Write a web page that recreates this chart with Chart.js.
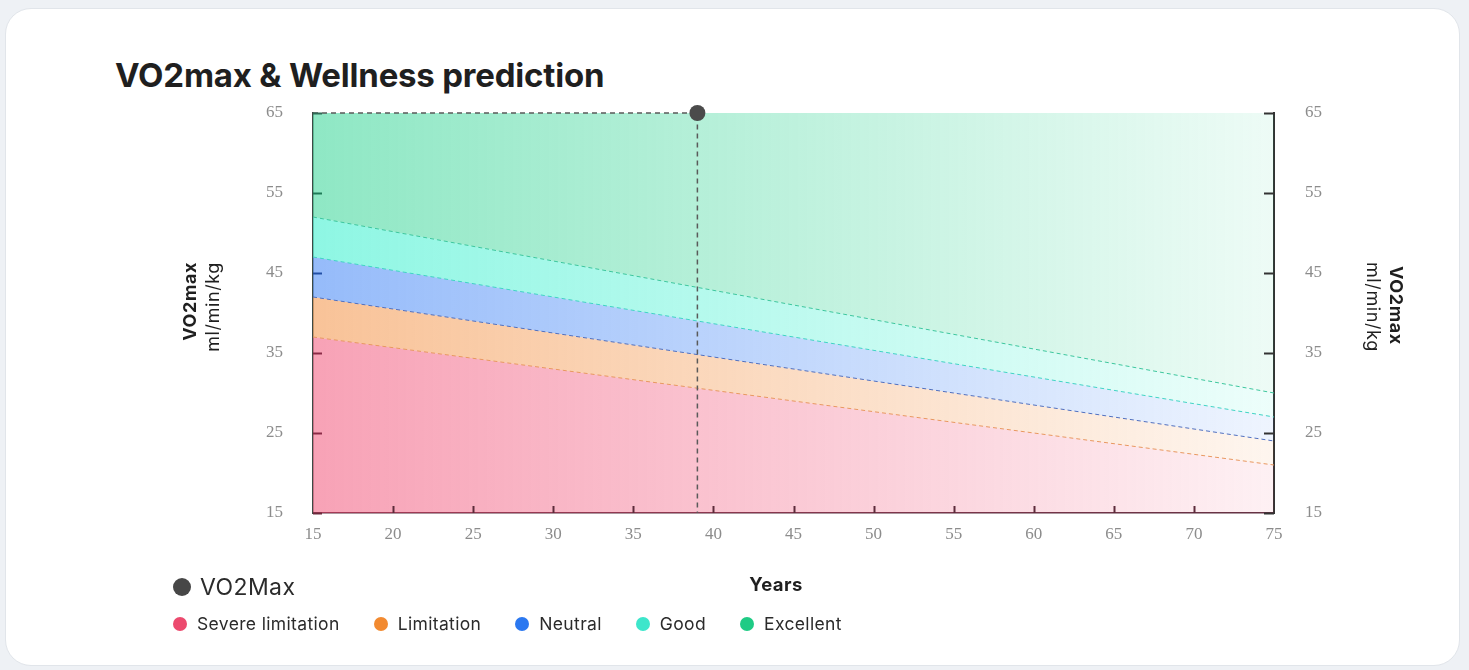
<!DOCTYPE html>
<html>
<head>
<meta charset="utf-8">
<title>VO2max &amp; Wellness prediction</title>
<script src="https://cdn.jsdelivr.net/npm/chart.js@4.4.1/dist/chart.umd.min.js"></script>
<style>
  html, body { margin: 0; padding: 0; background: #eef1f5; }
  body { width: 1469px; height: 670px; position: relative; overflow: hidden; font-family: Inter, "Noto Sans", sans-serif; }
  .card { position: absolute; left: 5px; top: 8px; width: 1453px; height: 656px; background: #fff;
          border: 1px solid #e1e5ea; border-radius: 26px; }
  h1 { position: absolute; left: 115px; top: 59px; margin: 0; font: 700 33px/33px Inter, sans-serif;
       color: #1f1f1f; letter-spacing: -0.2px; white-space: nowrap; }
  #wrap { position: absolute; left: 0; top: 0; width: 1469px; height: 670px; }
  .legend-row { position: absolute; display: flex; align-items: center; color: #2b2b2b; white-space: nowrap; }
  .legend-row.main { left: 173px; top: 574px; height: 26px; font: 400 23px/26px Inter, sans-serif; letter-spacing: 0.4px; }
  .legend-row.bands { left: 173px; top: 613px; height: 22px; font: 400 17.5px/22px Inter, sans-serif; letter-spacing: 0.35px; }
  .dot { display: inline-block; border-radius: 50%; }
  .main .dot { width: 18px; height: 18px; margin-right: 9px; }
  .bands .dot { width: 14px; height: 14px; margin-right: 10px; }
  .bands .item { display: flex; align-items: center; margin-right: 34px; }
</style>
</head>
<body>
<div class="card"></div>
<h1>VO2max &amp; Wellness prediction</h1>
<div id="wrap"><canvas id="chart"></canvas></div>
<div class="legend-row main" id="legendMain"></div>
<div class="legend-row bands" id="legendBands"></div>
<script>
// Age axis and band boundaries (ml/min/kg) at ages 15 and 75
const ages            = [15, 75];
const severeUpper     = [37, 21];
const limitationUpper = [42, 24];
const neutralUpper    = [47, 27];
const goodUpper       = [52, 30];
const excellentUpper  = [65, 65];

// Current measurement
const userAge   = 39;
const userVO2   = 65;
const vo2Label  = 'VO2Max';

// Axis ticks
const yTicks = [15, 25, 35, 45, 55, 65];
const xTicks = [15, 20, 25, 30, 35, 40, 45, 50, 55, 60, 65, 70, 75];

// Band names and colours
const bandNames  = ['Severe limitation', 'Limitation', 'Neutral', 'Good', 'Excellent'];
const bandDots   = ['#ec4a6e', '#f28a30', '#2b78f0', '#3de6cb', '#1fcb85'];
const bandRGB    = ['240,70,110', '242,135,50', '45,120,245', '30,238,200', '31,208,138'];
const bandEdges  = ['#e8975f', '#4f6fbf', '#3fd3c4', '#3cc69d', null];

const Y_MIN = 15, Y_MAX = 65, X_MIN = 15, X_MAX = 75;

function pts(values) {
  return ages.map((a, i) => ({ x: a, y: values[i] }));
}

function bandFill(rgb) {
  return (ctx) => {
    const chart = ctx.chart;
    const area = chart.chartArea;
    if (!area) return 'rgba(' + rgb + ',0.3)';
    const g = chart.ctx.createLinearGradient(area.left, 0, area.right, 0);
    g.addColorStop(0, 'rgba(' + rgb + ',0.5)');
    g.addColorStop(1, 'rgba(' + rgb + ',0.08)');
    return g;
  };
}

const bandData = [severeUpper, limitationUpper, neutralUpper, goodUpper, excellentUpper];

const datasets = [
  {
    label: vo2Label,
    data: [{ x: X_MIN, y: userVO2 }, { x: userAge, y: userVO2 }, { x: userAge, y: Y_MIN }],
    borderColor: '#5a5a5a',
    borderWidth: 1.5,
    borderDash: [5, 4],
    fill: false,
    clip: false,
    pointRadius: (c) => (c.dataIndex === 1 ? 8 : 0),
    pointBackgroundColor: '#4b4b4b',
    pointBorderWidth: 0,
    order: 0
  }
];

bandData.forEach((vals, i) => {
  datasets.push({
    label: bandNames[i],
    data: pts(vals),
    borderColor: bandEdges[i] || 'rgba(0,0,0,0)',
    borderWidth: bandEdges[i] ? 1 : 0,
    borderDash: [4, 3],
    backgroundColor: bandFill(bandRGB[i]),
    fill: i === 0 ? 'start' : '-1',
    pointRadius: 0,
    order: 1
  });
});

const leftTickColors = { 65: '#2f6b55', 55: '#1f7a57', 45: '#224fa5', 35: '#8b2a46', 25: '#8b2a46', 15: '#6b2a3c' };

function vText(ctx, text, x, y, angle, align, font) {
  ctx.save();
  ctx.translate(x, y);
  ctx.rotate(angle);
  ctx.textAlign = align;
  ctx.font = font;
  ctx.fillText(text, 0, 0);
  ctx.restore();
}

const decor = {
  id: 'decor',
  afterDraw(chart) {
    const { ctx, chartArea: a, scales } = chart;
    const y = scales.y, x = scales.x;
    ctx.save();
    ctx.lineWidth = 2;
    // inward ticks on both value axes
    y.ticks.forEach((t) => {
      const py = Math.round(y.getPixelForValue(t.value)) + 0.5;
      ctx.strokeStyle = leftTickColors[t.value] || '#444';
      ctx.beginPath(); ctx.moveTo(a.left, py); ctx.lineTo(a.left + 9, py); ctx.stroke();
      ctx.strokeStyle = '#333';
      ctx.beginPath(); ctx.moveTo(a.right, py); ctx.lineTo(a.right - 10, py); ctx.stroke();
    });
    // inward ticks on the age axis
    ctx.strokeStyle = '#5c2b3a';
    x.ticks.forEach((t) => {
      if (t.value === X_MIN || t.value === X_MAX) return;
      const px = Math.round(x.getPixelForValue(t.value)) + 0.5;
      ctx.beginPath(); ctx.moveTo(px, a.bottom); ctx.lineTo(px, a.bottom - 7); ctx.stroke();
    });

    // axis titles
    ctx.fillStyle = '#1f1f1f';
    ctx.textBaseline = 'middle';
    ctx.letterSpacing = '0.6px';
    // left, reading upward
    vText(ctx, 'VO2max', 191, 262, -Math.PI / 2, 'right', '700 18px Inter, sans-serif');
    vText(ctx, 'ml/min/kg', 214, 262, -Math.PI / 2, 'right', '400 18px Inter, sans-serif');
    // right, reading downward
    vText(ctx, 'VO2max', 1395, 266, Math.PI / 2, 'left', '700 18px Inter, sans-serif');
    vText(ctx, 'ml/min/kg', 1372, 262, Math.PI / 2, 'left', '400 18px Inter, sans-serif');

    // age axis title
    ctx.letterSpacing = '0.4px';
    ctx.textAlign = 'center';
    ctx.font = '700 18.5px Inter, sans-serif';
    ctx.fillText('Years', 776, 585);
    ctx.restore();
  }
};

const tickFont = { family: '"Liberation Serif", "DejaVu Serif", serif', size: 17 };
const tickColor = '#8c8c8c';

new Chart(document.getElementById('chart'), {
  type: 'line',
  data: { datasets },
  options: {
    responsive: true,
    maintainAspectRatio: false,
    animation: false,
    events: [],
    layout: { padding: { left: 0, top: 113, right: 95, bottom: 117 } },
    plugins: { legend: { display: false }, tooltip: { enabled: false }, title: { display: false } },
    scales: {
      x: {
        type: 'linear', min: X_MIN, max: X_MAX, z: 1,
        afterBuildTicks: (s) => { s.ticks = xTicks.map((v) => ({ value: v })); },
        afterFit: (s) => { s.height = 40; },
        grid: { display: false, drawTicks: false },
        border: { display: true, color: '#5a3040', width: 1.5, dash: [4, 3] },
        ticks: { padding: 11, font: tickFont, color: tickColor, maxRotation: 0 }
      },
      y: {
        type: 'linear', position: 'left', min: Y_MIN, max: Y_MAX, z: 1,
        afterBuildTicks: (s) => { s.ticks = yTicks.map((v) => ({ value: v })); },
        afterFit: (s) => { s.width = 313; },
        grid: { display: false, drawTicks: false },
        border: { display: true, color: '#3d4a45', width: 1.5 },
        ticks: { padding: 30, font: tickFont, color: tickColor }
      },
      y2: {
        type: 'linear', position: 'right', min: Y_MIN, max: Y_MAX, z: 1,
        afterBuildTicks: (s) => { s.ticks = yTicks.map((v) => ({ value: v })); },
        afterFit: (s) => { s.width = 100; },
        grid: { display: false, drawTicks: false },
        border: { display: true, color: '#333333', width: 2 },
        ticks: { padding: 31, font: tickFont, color: tickColor }
      }
    }
  },
  plugins: [decor]
});

// legend below the chart
const main = document.getElementById('legendMain');
main.innerHTML = '<span class="dot" style="background:#474747"></span><span>' + vo2Label + '</span>';
const bands = document.getElementById('legendBands');
bandNames.forEach((name, i) => {
  const item = document.createElement('span');
  item.className = 'item';
  item.innerHTML = '<span class="dot" style="background:' + bandDots[i] + '"></span><span>' + name + '</span>';
  bands.appendChild(item);
});
</script>
</body>
</html>
